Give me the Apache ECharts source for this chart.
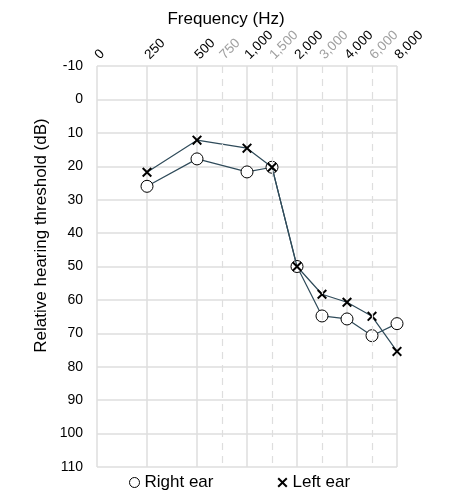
<!DOCTYPE html>
<html>
<head>
<meta charset="utf-8">
<script src="https://cdn.jsdelivr.net/npm/echarts@6/dist/echarts.min.js"></script>
<style>
  html, body { margin: 0; padding: 0; background: #fff; }
  #main { width: 450px; height: 500px; }
</style>
</head>
<body>
<div id="main"></div>
<script>
// axis positions (one unit per octave) and their frequency labels
const tickPos = [0, 1, 2, 2.5, 3, 3.5, 4, 4.5, 5, 5.5, 6];
const tickLabels = ['0', '250', '500', '750', '1,000', '1,500', '2,000', '3,000', '4,000', '6,000', '8,000'];
const halfOctaves = [2.5, 3.5, 4.5, 5.5];

// tested frequencies as axis positions
const testPos = [1, 2, 3, 3.5, 4, 4.5, 5, 5.5, 6];
const rightEar = [26, 17.8, 21.7, 20.3, 50, 64.8, 65.7, 70.7, 67.1];
const leftEar = [21.8, 12.2, 14.6, 20.3, 50, 58.3, 60.7, 64.9, 75.4];

const crossPath = 'path://M1.4,0 L5,3.6 L8.6,0 L10,1.4 L6.4,5 L10,8.6 L8.6,10 L5,6.4 L1.4,10 L0,8.6 L3.6,5 L0,1.4 Z';
const lineColor = '#2f4b5a';
const gridColor = '#dedede';
const font = 'Liberation Sans, Arial, sans-serif';

const myChart = echarts.init(document.getElementById('main'));

const option = {
  animation: false,
  textStyle: { fontFamily: font },
  grid: { left: 97, right: 53, top: 66, bottom: 33 },
  legend: {
    bottom: 4,
    left: 124,
    itemGap: 64,
    itemWidth: 10,
    itemHeight: 10,
    textStyle: { fontSize: 17, color: '#000', fontFamily: font },
    data: [
      { name: 'Right ear', icon: 'circle', itemStyle: { color: '#fff', borderColor: '#000', borderWidth: 1 } },
      { name: 'Left ear', icon: crossPath, itemStyle: { color: '#000', borderWidth: 0 } }
    ]
  },
  xAxis: [
    {
      type: 'value',
      position: 'top',
      min: 0,
      max: 6,
      interval: 0.5,
      name: 'Frequency (Hz)',
      nameLocation: 'middle',
      nameGap: 38,
      nameMoveOverlap: false,
      nameTextStyle: { fontSize: 17, color: '#000', padding: [0, 42, 0, 0] },
      axisLine: { show: false },
      axisTick: { show: false },
      splitLine: { show: false },
      axisLabel: {
        rotate: 45,
        margin: 9,
        fontSize: 13.5,
        color: function (val) {
          return halfOctaves.indexOf(Number(val)) >= 0 ? '#a0a0a0' : '#000';
        },
        formatter: function (val) {
          const i = tickPos.indexOf(Number(val));
          return i >= 0 ? tickLabels[i] : '';
        }
      }
    },
    {
      type: 'value',
      position: 'top',
      min: 0,
      max: 6,
      interval: 1,
      axisLine: { show: false },
      axisTick: { show: false },
      axisLabel: { show: false },
      splitLine: { show: true, lineStyle: { color: gridColor, width: 1.5 } }
    }
  ],
  yAxis: {
    type: 'value',
    inverse: true,
    min: -10,
    max: 110,
    interval: 10,
    name: 'Relative hearing threshold (dB)',
    nameLocation: 'middle',
    nameGap: 47,
    nameMoveOverlap: false,
    nameTextStyle: { fontSize: 17, color: '#000', padding: [0, 0, 0, 62] },
    axisLine: { show: false },
    axisTick: { show: false },
    axisLabel: { fontSize: 14, color: '#000', margin: 14 },
    splitLine: { show: true, lineStyle: { color: gridColor, width: 1.5 } }
  },
  series: [
    {
      name: 'Right ear',
      type: 'line',
      xAxisIndex: 0,
      data: testPos.map((x, i) => [x, rightEar[i]]),
      symbol: 'circle',
      symbolSize: 12,
      lineStyle: { color: lineColor, width: 1.2 },
      itemStyle: { color: '#fff', borderColor: '#000', borderWidth: 1 },
      markLine: {
        silent: true,
        symbol: 'none',
        label: { show: false },
        lineStyle: { color: gridColor, width: 1.2, type: [7, 6] },
        data: halfOctaves.map((x) => ({ xAxis: x }))
      },
      z: 3
    },
    {
      name: 'Left ear',
      type: 'line',
      xAxisIndex: 0,
      data: testPos.map((x, i) => [x, leftEar[i]]),
      symbol: crossPath,
      symbolSize: 10,
      lineStyle: { color: lineColor, width: 1.2 },
      itemStyle: { color: '#000', borderWidth: 0 },
      z: 4
    }
  ]
};

myChart.setOption(option);
</script>
</body>
</html>
